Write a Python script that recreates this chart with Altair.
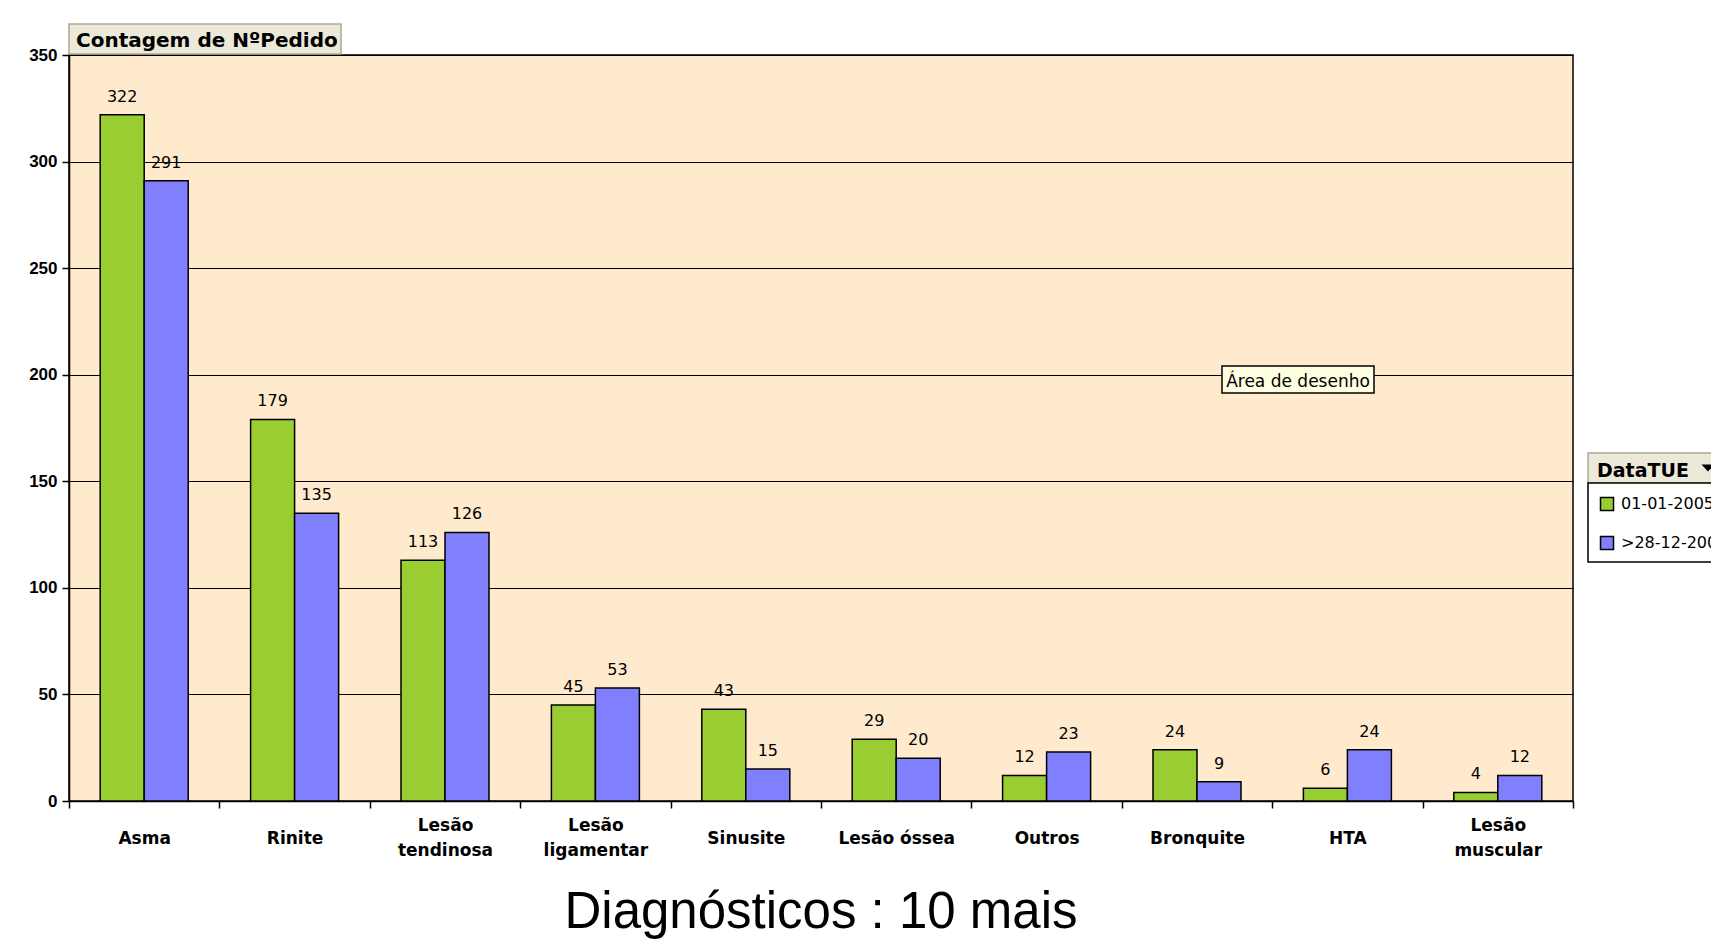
import altair as alt
import pandas as pd

# ---- data ----
categories = ["Asma", "Rinite", "Lesão tendinosa", "Lesão ligamentar", "Sinusite",
              "Lesão óssea", "Outros", "Bronquite", "HTA", "Lesão muscular"]
two_line = ["Lesão tendinosa", "Lesão ligamentar", "Lesão muscular"]
series = ["01-01-2005 - 28-12-2005", ">28-12-2005"]
values_s1 = [322, 179, 113, 45, 43, 29, 12, 24, 6, 4]
values_s2 = [291, 135, 126, 53, 15, 20, 23, 9, 24, 12]
colors = ["#9ACD32", "#8080FF"]
y_ticks = [0, 50, 100, 150, 200, 250, 300, 350]

header_text = "Contagem de NºPedido"
legend_title = "DataTUE"
area_text = "Área de desenho"
main_title = "Diagnósticos : 10 mais"

rows = []
for c, a, b in zip(categories, values_s1, values_s2):
    rows.append({"Diag": c, "Serie": series[0], "Valor": a})
    rows.append({"Diag": c, "Serie": series[1], "Valor": b})
df = pd.DataFrame(rows)

W, H = 1504, 746
dummy = pd.DataFrame({"d": [0]})

two_line_js = "[" + ",".join("'" + s + "'" for s in two_line) + "]"
label_expr = f"indexof({two_line_js}, datum.label) >= 0 ? split(datum.label, ' ') : datum.label"
pad_cond = {"condition": {"test": f"indexof({two_line_js}, datum.label) >= 0", "value": 17.5},
            "value": 30}

x_enc = alt.X("Diag:N", sort=categories, title=None,
              scale=alt.Scale(paddingInner=0, paddingOuter=0),
              axis=alt.Axis(labelAngle=0, labelFont="DejaVu Sans", labelFontWeight="bold",
                            labelFontSize=17, labelColor="black", labelLineHeight=25,
                            labelBaseline="middle", labelPadding=pad_cond, labelLimit=400,
                            labelExpr=label_expr,
                            tickBand="extent", tickSize=7, tickColor="black", tickWidth=1.5,
                            domainColor="black", domainWidth=1.5, grid=False))
xoff_enc = alt.XOffset("Serie:N", sort=series, scale=alt.Scale(paddingInner=0, paddingOuter=0.709))
y_enc = alt.Y("Valor:Q", title=None, scale=alt.Scale(domain=[0, 350], nice=False),
              axis=alt.Axis(values=y_ticks, labelFont="Liberation Sans", labelFontWeight="bold",
                            labelFontSize=17, labelColor="black", labelPadding=5,
                            tickSize=7, tickColor="black", tickWidth=1.5,
                            domainColor="black", domainWidth=1.5,
                            grid=True, gridColor="black", gridWidth=1, gridOpacity=1))
color_enc = alt.Color("Serie:N", sort=series,
                      scale=alt.Scale(domain=series, range=colors),
                      legend=alt.Legend(title=None, orient="none", legendX=1530, legendY=441,
                                        padding=0, symbolType="square", symbolSize=169,
                                        symbolStrokeColor="black", symbolStrokeWidth=1.5,
                                        labelFont="DejaVu Sans", labelFontSize=16, labelColor="black",
                                        labelOffset=6, rowPadding=19, labelLimit=400))

bars = alt.Chart(df).mark_bar(stroke="black", strokeWidth=1.5).encode(
    x=x_enc, xOffset=xoff_enc, y=y_enc, color=color_enc)

labels = alt.Chart(df).mark_text(dy=-13, baseline="alphabetic", font="DejaVu Sans",
                                 fontSize=16, color="black").encode(
    x=alt.X("Diag:N", sort=categories), xOffset=alt.XOffset("Serie:N", sort=series),
    y="Valor:Q", text="Valor:Q")


def box(x1, x2, y1, y2, fill, stroke, sw=1.5):
    return alt.Chart(dummy).mark_rect(fill=fill, stroke=stroke, strokeWidth=sw).encode(
        x=alt.value(x1), x2=alt.value(x2), y=alt.value(y1), y2=alt.value(y2))


def label(txt, xv, yv, size, weight="normal", font="DejaVu Sans", align="left", baseline="alphabetic"):
    return alt.Chart(dummy).mark_text(align=align, baseline=baseline, font=font, fontSize=size,
                                      fontWeight=weight, color="black").encode(
        x=alt.value(xv), y=alt.value(yv), text=alt.value(txt))


header_box = box(0, 272, -31, -1, "#ECE9D8", "#ACA899")
header_lbl = label(header_text, 7, -8, 20, weight="bold")

area_box = box(1153, 1305, 311, 338, "#FFFFE1", "black")
area_lbl = label(area_text, 1229, 332, 17, align="center")

leg_head = box(1519, 1700, 398, 428, "#ECE9D8", "#ACA899")
leg_body = box(1519, 1700, 428, 507, "white", "black")
leg_lbl = label(legend_title, 1528, 422, 19, weight="bold")
leg_arrow = alt.Chart(dummy).mark_point(shape="M -1 -0.55 L 1 -0.55 L 0 0.55 Z", filled=True,
                                        size=169, color="black", opacity=1).encode(
    x=alt.value(1639), y=alt.value(413))

title_lbl = label(main_title, 752, 872.5, 51, font="Liberation Sans", align="center")

chart = alt.layer(bars, labels, header_box, header_lbl, area_box, area_lbl,
                  leg_head, leg_body, leg_lbl, leg_arrow, title_lbl).properties(
    width=W, height=H,
    padding={"left": 61, "top": 47, "right": 138, "bottom": 138},
    autosize=alt.AutoSizeParams(type="none"),
    background="white",
).configure_view(fill="#FFEACD", stroke="black", strokeWidth=1.5)

chart.save("out.html", embed_options={"renderer": "svg", "actions": False})
